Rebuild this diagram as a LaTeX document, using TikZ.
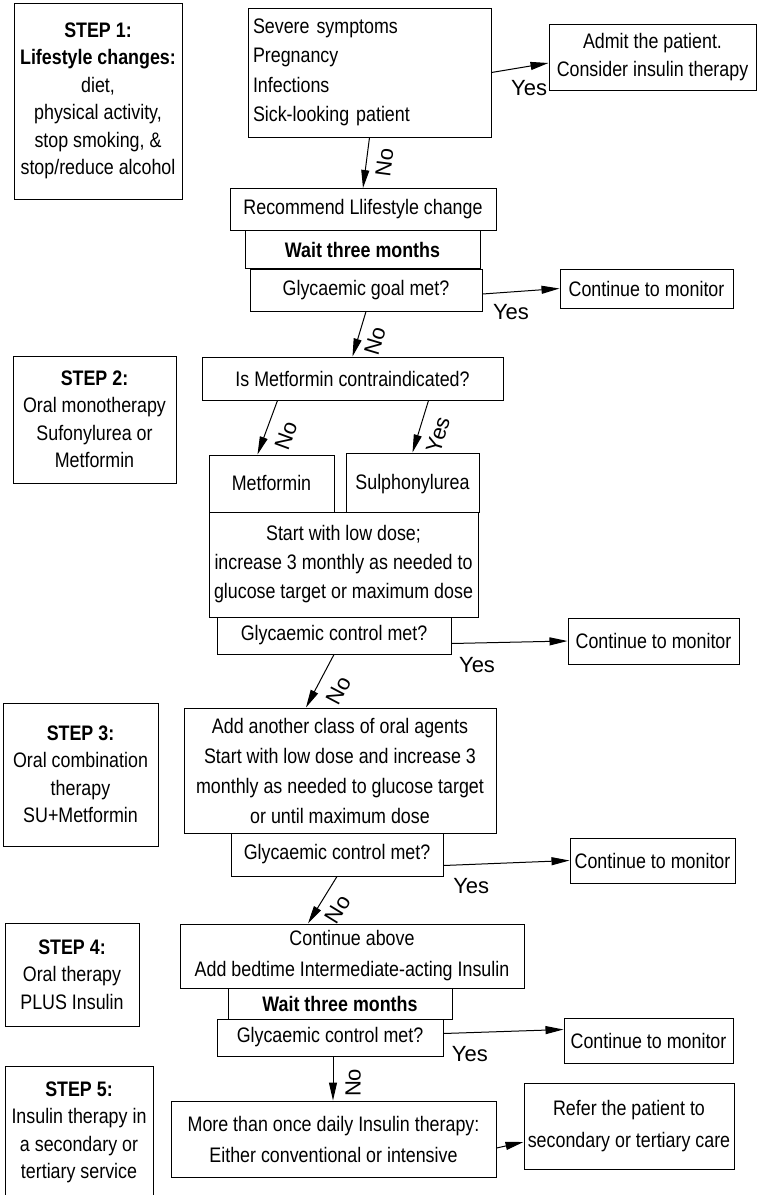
\documentclass[tikz,border=0pt]{standalone}
\usepackage{fontspec}
\setmainfont{Liberation Sans}[FakeStretch = 0.85]
\newfontfamily\lblfont{Liberation Sans}
\usetikzlibrary{arrows.meta}

\begin{document}
\begin{tikzpicture}[x = 1pt, y = -1pt,
        flowbox/.style = {draw, line width = 1pt, inner sep = 0pt, align = center, font = \fontsize{21}{30}\selectfont},
        stepbox/.style = {flowbox, font = \fontsize{21}{27.5}\selectfont},
        oneline/.style = {text height = 18pt, text depth = 4.5pt},
        lbl/.style = {font = \lblfont\fontsize{22}{22}\selectfont, inner sep = 1pt},
        arr/.style = {line width = 1pt, -{Triangle[length = 18pt, width = 8pt]}}]
        \useasboundingbox (0, 0) rectangle (757, 1195);

        \node[stepbox, minimum width = 168pt, minimum height = 196pt] (step1) at (98, 101) {\textbf{STEP 1:}\\\textbf{Lifestyle changes:}\\diet,\\physical activity,\\stop smoking, \&\\stop/reduce alcohol};
        \node[stepbox, minimum width = 163pt, minimum height = 127pt] (step2) at (94.5, 419.5) {\textbf{STEP 2:}\\Oral monotherapy\\Sufonylurea or\\Metformin};
        \node[stepbox, minimum width = 155pt, minimum height = 143pt] (step3) at (80.5, 774.5) {\textbf{STEP 3:}\\Oral combination\\therapy\\SU+Metformin};
        \node[stepbox, minimum width = 134pt, minimum height = 103pt] (step4) at (72, 974.5) {\textbf{STEP 4:}\\Oral therapy\\PLUS Insulin};
        \node[stepbox, minimum width = 148pt, minimum height = 133pt] (step5) at (79, 1132.5) {\textbf{STEP 5:}\\Insulin therapy in\\a secondary or\\tertiary service};

        \node[flowbox, align = left, text width = 233pt, inner xsep = 5pt, minimum height = 129pt, font = \fontsize{21}{29.5}\selectfont] (sym) at (369.5, 72.5) {Severe symptoms\\Pregnancy\\Infections\\Sick-looking patient};
        \node[flowbox, minimum width = 207pt, minimum height = 66pt, font = \fontsize{21}{28}\selectfont] (admit) at (652.5, 57) {Admit the patient.\\Consider insulin therapy};
        \node[flowbox, minimum width = 266pt, minimum height = 42pt] (rec) at (363, 209.5) {Recommend Llifestyle change};
        \node[flowbox, minimum width = 235pt, minimum height = 38pt] (wait1) at (362.5, 249.5) {\textbf{Wait three months}};
        \node[flowbox, minimum width = 232pt, minimum height = 42pt] (goal) at (366, 290) {Glycaemic goal met?};
        \node[flowbox, minimum width = 173pt, minimum height = 39pt] (cont1) at (646.5, 288.5) {Continue to monitor};
        \node[flowbox, minimum width = 301pt, minimum height = 43pt] (metc) at (352.5, 378.5) {Is Metformin contraindicated?};
        \node[flowbox, oneline, minimum width = 125pt, minimum height = 57pt] (metf) at (271.5, 483.5) {Metformin};
        \node[flowbox, oneline, minimum width = 133pt, minimum height = 59pt] (sulph) at (412.5, 482.5) {Sulphonylurea};
        \node[flowbox, minimum width = 269pt, minimum height = 105pt, font = \fontsize{21}{29}\selectfont] (low) at (343.5, 564.5) {Start with low dose;\\increase 3 monthly as needed to\\glucose target or maximum dose};
        \node[flowbox, minimum width = 234pt, minimum height = 37pt] (ctl1) at (334, 635.5) {Glycaemic control met?};
        \node[flowbox, minimum width = 171pt, minimum height = 46pt] (cont2) at (653.5, 641) {Continue to monitor};
        \node[flowbox, minimum width = 312pt, minimum height = 125pt] (add) at (340, 770.5) {Add another class of oral agents\\Start with low dose and increase 3\\monthly as needed to glucose target\\or until maximum dose};
        \node[flowbox, minimum width = 212pt, minimum height = 43pt] (ctl2) at (337, 854.5) {Glycaemic control met?};
        \node[flowbox, minimum width = 165pt, minimum height = 45pt] (cont3) at (652.5, 860.5) {Continue to monitor};
        \node[flowbox, minimum width = 344pt, minimum height = 64pt, font = \fontsize{21}{31}\selectfont] (above) at (352, 956) {Continue above\\Add bedtime Intermediate-acting Insulin};
        \node[flowbox, minimum width = 224pt, minimum height = 31pt] (wait2) at (340, 1003.5) {\textbf{Wait three months}};
        \node[flowbox, minimum width = 226pt, minimum height = 37pt] (ctl3) at (330, 1037.5) {Glycaemic control met?};
        \node[flowbox, minimum width = 169pt, minimum height = 45pt] (cont4) at (648.5, 1040.5) {Continue to monitor};
        \node[flowbox, minimum width = 325pt, minimum height = 76pt, font = \fontsize{21}{31}\selectfont] (more) at (333.5, 1139) {More than once daily Insulin therapy:\\Either conventional or intensive};
        \node[flowbox, minimum width = 210pt, minimum height = 86pt, font = \fontsize{21}{32}\selectfont] (refer) at (629, 1126) {Refer the patient to\\secondary or tertiary care};

        \draw[arr] (sym.east) to node[lbl, pos = 0.66, below = 13pt] {Yes} ([yshift = -6pt]admit.west);
        \draw[arr] (sym.south) to node[lbl, sloped, pos = 0.45, below = 9pt] {No} (rec.north);
        \draw[arr] ([yshift = -4pt]goal.east) to node[lbl, pos = 0.37, below = 11pt] {Yes} (cont1.west);
        \draw[arr] (goal.south) to node[lbl, sloped, pos = 0.55, below = 8pt] {No} (metc.north);
        \draw[arr] ([xshift = -75pt]metc.south) to node[lbl, sloped, pos = 0.52, below = 11pt] {No} ([xshift = -14pt]metf.north);
        \draw[arr] ([xshift = 76pt]metc.south) to node[lbl, sloped, pos = 0.55, below = 10pt] {Yes} (sulph.north);
        \draw[arr] ([yshift = -8pt]ctl1.east) to node[lbl, pos = 0.22, below = 13pt] {Yes} (cont2.west);
        \draw[arr] (ctl1.south) to node[lbl, sloped, pos = 0.5, below = 12pt] {No} ([xshift = -34pt]add.north);
        \draw[arr] ([yshift = -11pt]ctl2.east) to node[lbl, pos = 0.22, below = 12pt] {Yes} (cont3.west);
        \draw[arr] (ctl2.south) to node[lbl, sloped, pos = 0.5, below = 9pt] {No} ([xshift = -44pt]above.north);
        \draw[arr] ([yshift = 4pt]ctl3.east) to node[lbl, pos = 0.22, below = 12pt] {Yes} ([yshift = 11pt]cont4.west);
        \draw[arr] ([xshift = 3pt]ctl3.south) to node[lbl, rotate = 90, pos = 0.6, below = 11pt] {No} ([xshift = 3pt]ctl3.south |- more.north);
        \draw[arr] ([yshift = -9pt]more.east) to ([yshift = -16pt]refer.west);
    \end{tikzpicture}
\end{document}
